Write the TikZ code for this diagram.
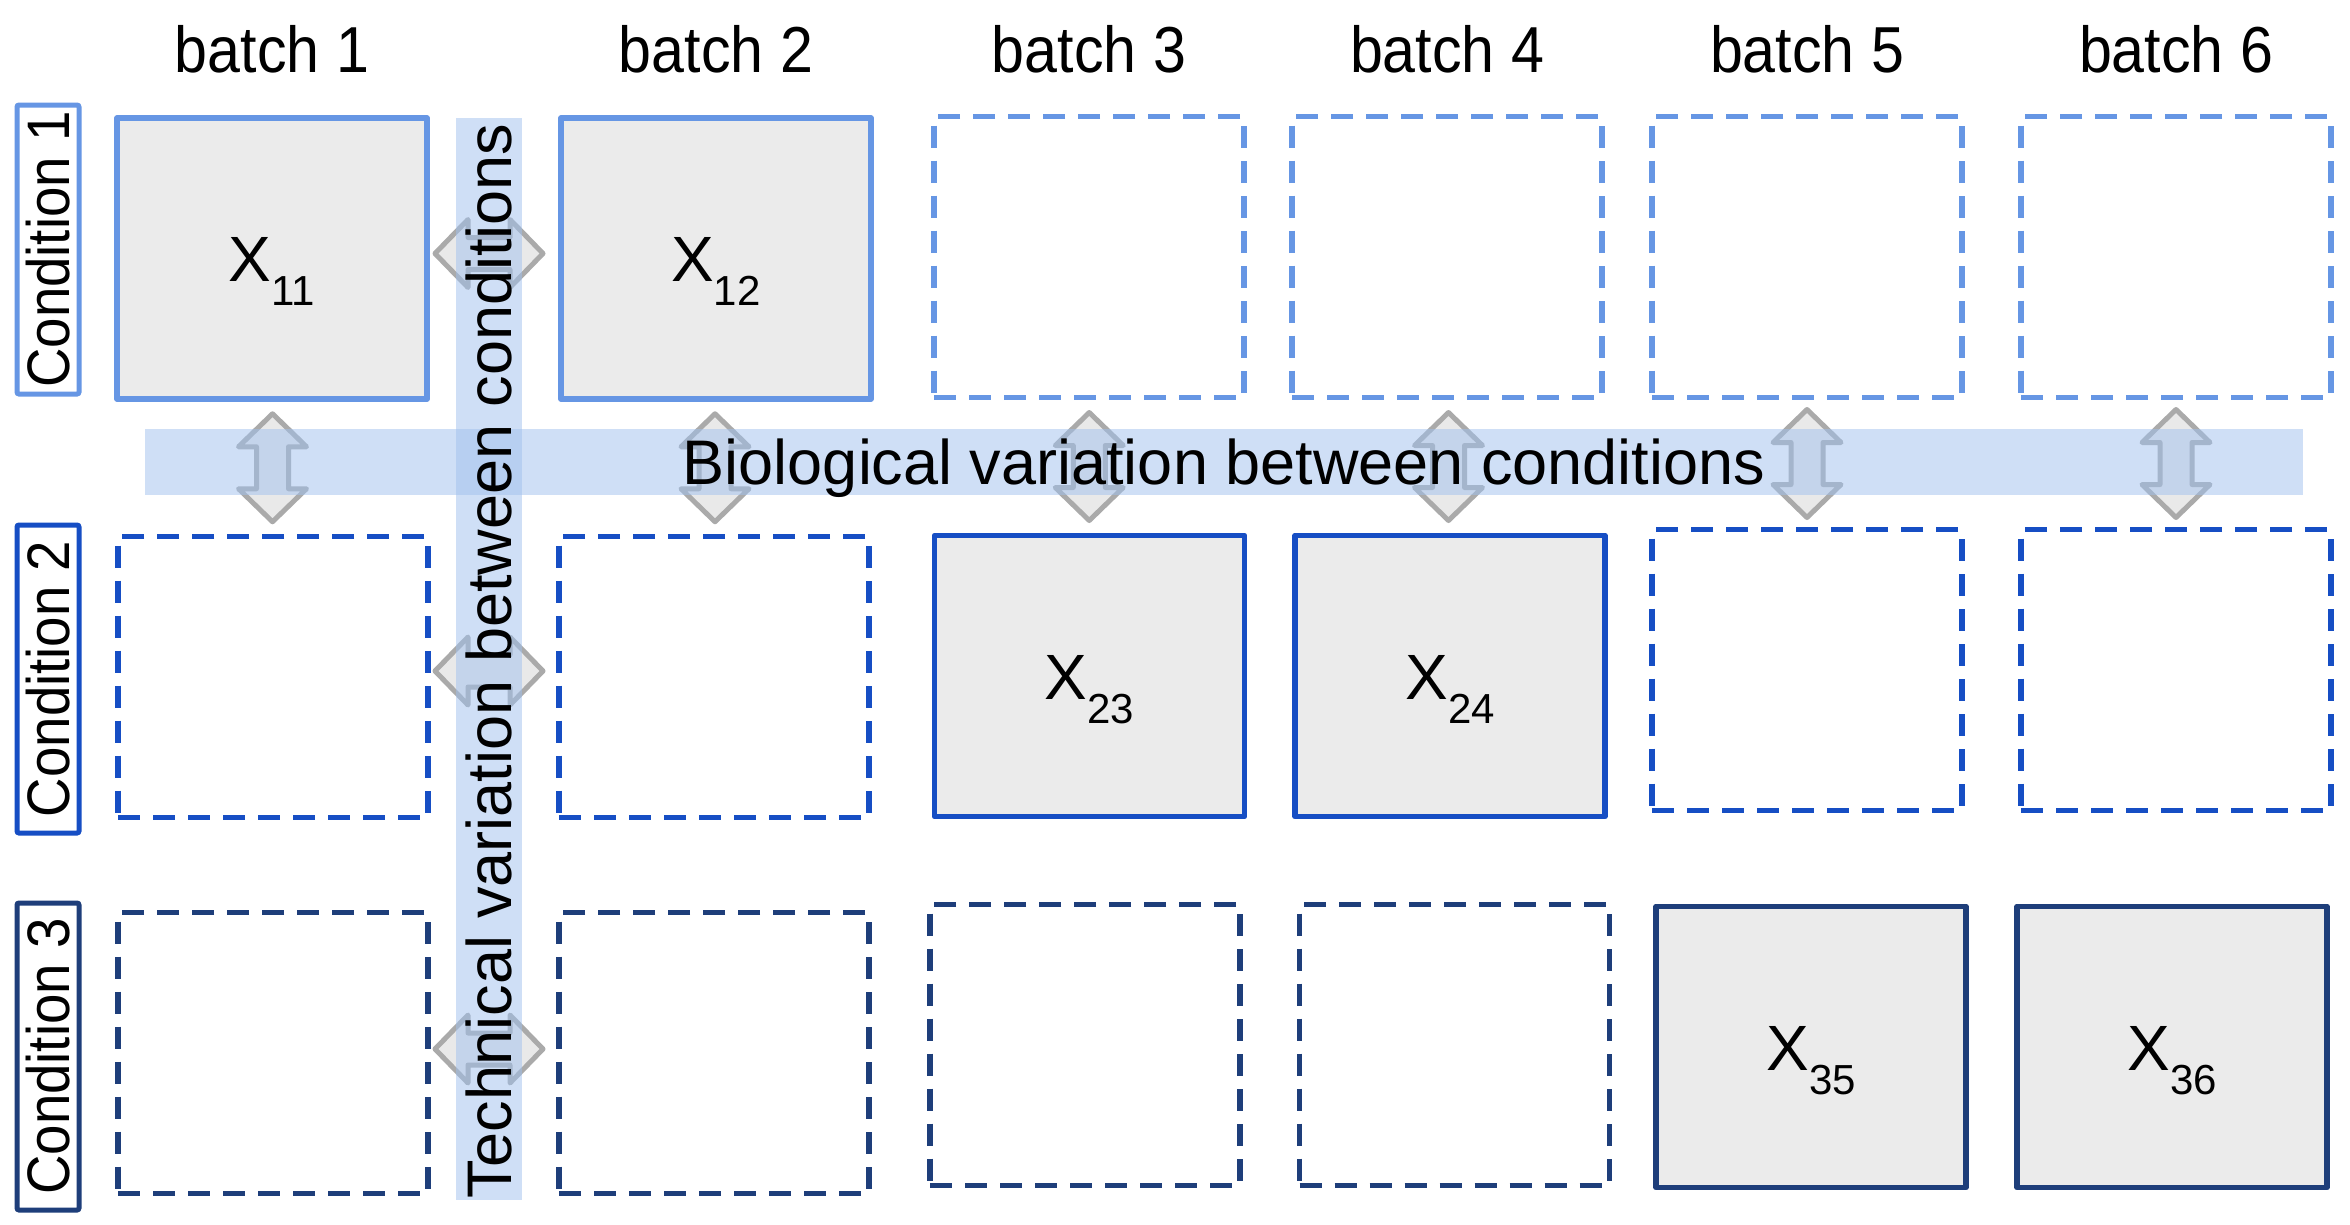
\documentclass[tikz,border=0pt]{standalone}
\usepackage{fontspec}
\setmainfont{Liberation Sans}
\newfontfamily\condsans[FakeStretch=0.91]{Liberation Sans}
\usetikzlibrary{calc}
\definecolor{rowa}{RGB}{102,150,228}
\definecolor{rowb}{RGB}{22,78,196}
\definecolor{rowc}{RGB}{30,62,122}
\definecolor{cellfill}{RGB}{235,235,235}
\definecolor{arrowline}{RGB}{170,170,170}
\definecolor{arrowfill}{RGB}{233,233,233}
\definecolor{bandcol}{RGB}{160,192,238}
\newcommand\xsub[1]{\raisebox{-24pt}{\fontsize{42}{42}\selectfont #1}}
\begin{document}
\begin{tikzpicture}[x=1pt,y=-1pt,
  cell/.style={rectangle, minimum width=310pt, minimum height=281pt, line width=5.5pt, inner sep=0pt, line join=round},
  filledcell/.style={cell, fill=cellfill},
  emptycell/.style={cell, dash pattern=on 22pt off 13pt},
  xlab/.style={font=\fontsize{64}{64}\selectfont, inner sep=0pt, text height=46pt, text depth=0pt},
  batchlab/.style={font=\condsans\fontsize{65}{65}\selectfont, inner sep=0pt, text height=46pt, text depth=0pt},
  condbox/.style={rectangle, rotate=90, line width=5pt, rounded corners=2pt, minimum height=62pt, inner sep=0pt, font=\condsans\fontsize{60}{60}\selectfont, text height=43pt, text depth=0pt},
  band/.style={rectangle, fill=bandcol, fill opacity=0.5, inner sep=0pt},
  bandtext/.style={font=\fontsize{63}{63}\selectfont, inner sep=0pt, text height=45pt, text depth=0pt},
  arrowshape/.style={draw=arrowline, fill=arrowfill, line width=5pt, line join=round},
  biarrow/.pic={\path[arrowshape] (-54,0) -- (-21,-34) -- (-21,-16) -- (21,-16) -- (21,-34) -- (54,0) -- (21,34) -- (21,16) -- (-21,16) -- (-21,34) -- cycle;}
]
\useasboundingbox (0,0) rectangle (2350,1224);
\fill[white] (0,0) rectangle (2350,1224);

% row 1
\node[filledcell, draw=rowa] (r1c1) at (272,258.5) {};
\node[filledcell, draw=rowa] (r1c2) at (716,258.5) {};
\node[emptycell, draw=rowa] (r1c3) at (1089,257) {};
\node[emptycell, draw=rowa] (r1c4) at (1447,257) {};
\node[emptycell, draw=rowa] (r1c5) at (1807,257) {};
\node[emptycell, draw=rowa] (r1c6) at (2176,257) {};
% row 2
\node[emptycell, draw=rowb] (r2c1) at (273,677) {};
\node[emptycell, draw=rowb] (r2c2) at (714,677) {};
\node[filledcell, draw=rowb] (r2c3) at (1089.5,676) {};
\node[filledcell, draw=rowb] (r2c4) at (1450,676) {};
\node[emptycell, draw=rowb] (r2c5) at (1807,670) {};
\node[emptycell, draw=rowb] (r2c6) at (2176,670) {};
% row 3
\node[emptycell, draw=rowc] (r3c1) at (273,1053) {};
\node[emptycell, draw=rowc] (r3c2) at (714,1053) {};
\node[emptycell, draw=rowc] (r3c3) at (1085,1045) {};
\node[emptycell, draw=rowc] (r3c4) at (1454.5,1045) {};
\node[filledcell, draw=rowc] (r3c5) at (1811,1047) {};
\node[filledcell, draw=rowc] (r3c6) at (2172,1047) {};

% cell labels
\node[xlab] at (r1c1) {X\xsub{11}};
\node[xlab] at (r1c2) {X\xsub{12}};
\node[xlab] at (r2c3) {X\xsub{23}};
\node[xlab] at (r2c4) {X\xsub{24}};
\node[xlab] at (r3c5) {X\xsub{35}};
\node[xlab] at (r3c6) {X\xsub{36}};

% band centres
\path (1224,462) coordinate (hbandc);
\path (489,659) coordinate (vbandc);

% vertical double arrows
\foreach \c in {1,...,6}{
  \pic[rotate=90] at ($(r1c\c.south)!0.5!(r2c\c.north)$) {biarrow};
}
% horizontal double arrows
\pic[yshift=5pt] at (vbandc |- r1c1) {biarrow};
\pic[yshift=6pt] at (vbandc |- r2c1) {biarrow};
\pic[yshift=4pt] at (vbandc |- r3c1) {biarrow};

% bands
\node[band, minimum width=2158pt, minimum height=66pt] (hband) at (hbandc) {};
\node[band, minimum width=66pt, minimum height=1082pt] (vband) at (vbandc) {};
\node[bandtext] at (hband) {Biological variation between conditions};
\node[bandtext, rotate=90] at ($(vband)+(0,2)$) {Technical variation between conditions};

% batch labels
\coordinate (toprow) at (0,49);
\node[batchlab] at (r1c1 |- toprow) {batch 1};
\node[batchlab] at (r1c2 |- toprow) {batch 2};
\node[batchlab] at (r1c3 |- toprow) {batch 3};
\node[batchlab] at (r1c4 |- toprow) {batch 4};
\node[batchlab] at (r1c5 |- toprow) {batch 5};
\node[batchlab] at (r1c6 |- toprow) {batch 6};

% condition labels
\node[condbox, draw=rowa, minimum width=289pt] (cond1) at (48,249.5) {Condition 1};
\node[condbox, draw=rowb, minimum width=308pt] (cond2) at (48,679) {Condition 2};
\node[condbox, draw=rowc, minimum width=307pt] (cond3) at (48,1056.5) {Condition 3};
\end{tikzpicture}
\end{document}
